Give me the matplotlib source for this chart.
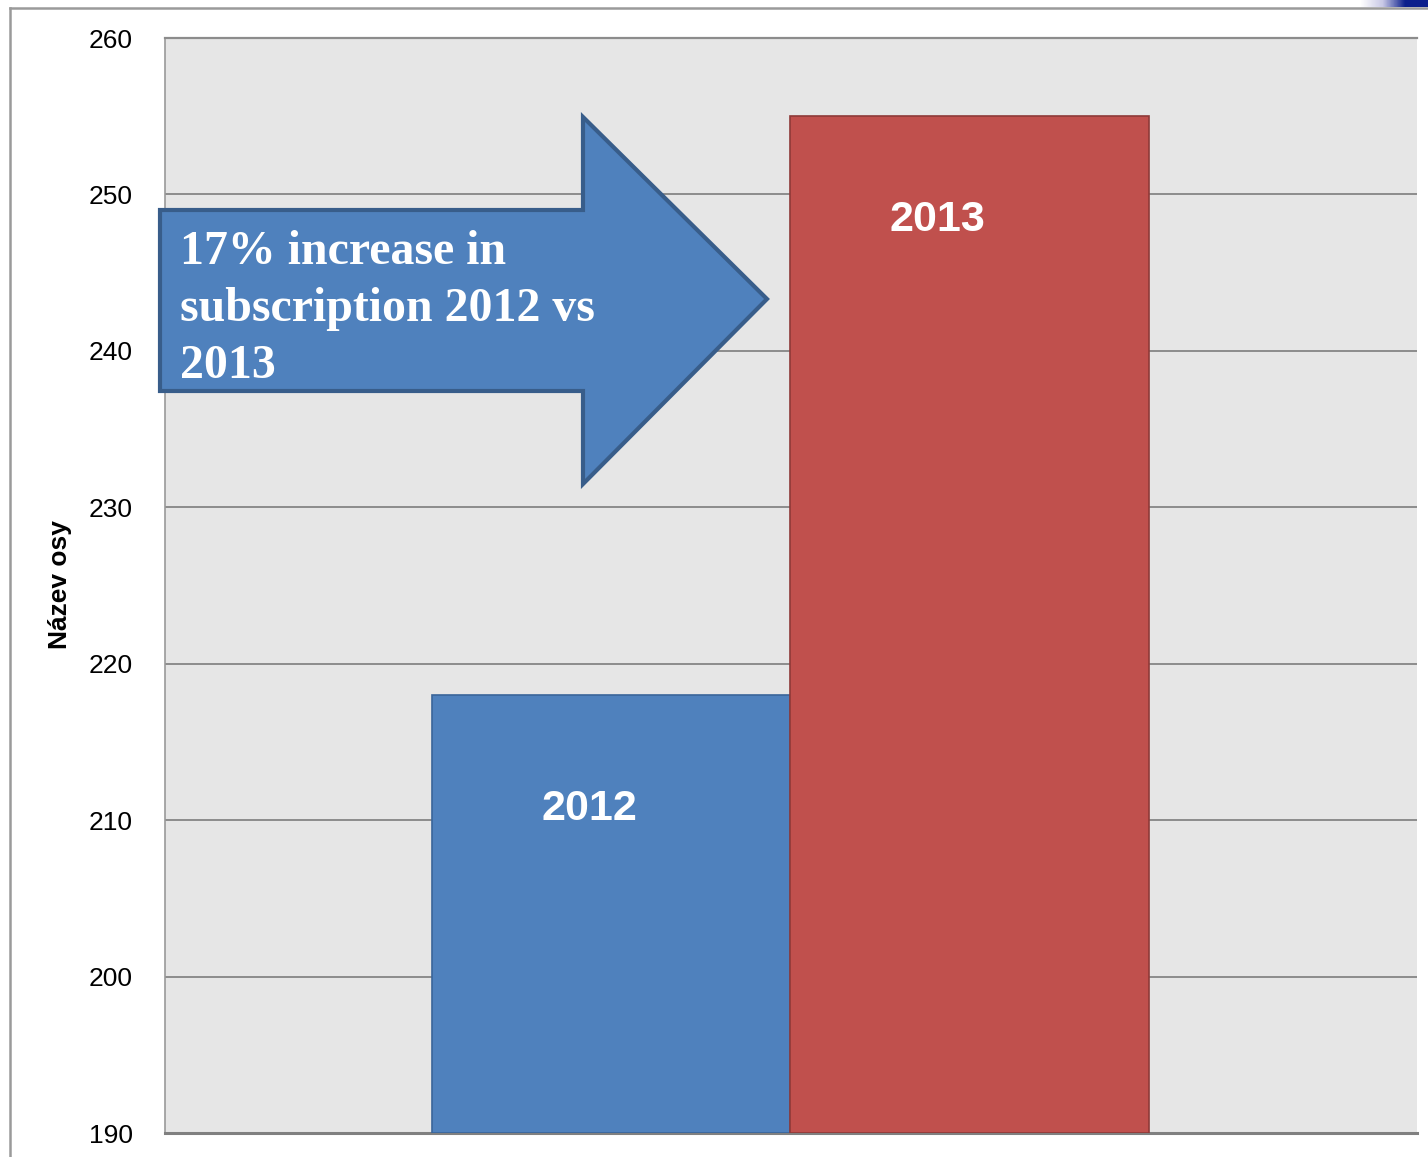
import matplotlib
matplotlib.use("Agg")
import matplotlib.pyplot as plt
from matplotlib.patches import Polygon
from matplotlib.colors import LinearSegmentedColormap
import numpy as np

years = ["2012", "2013"]
values = [218, 255]
colors = ["#4F81BD", "#C0504D"]
edges = ["#3A659A", "#8E3A38"]
yticks = [190, 200, 210, 220, 230, 240, 250, 260]
axis_title = "Název osy"
arrow_text = "17% increase in\nsubscription 2012 vs\n2013"

W, H = 1428, 1157
fig = plt.figure(figsize=(W / 100, H / 100), dpi=100)

def fx(px):
    return px / W

def fy(py):
    return 1 - py / H

# outer frame
fig.add_artist(plt.Line2D([fx(10), fx(10)], [fy(8), 0], color="#9a9a9a", lw=1.8, transform=fig.transFigure))
fig.add_artist(plt.Line2D([fx(10), 1], [fy(8), fy(8)], color="#9a9a9a", lw=1.8, transform=fig.transFigure))
# top-right decoration
grad = np.linspace(0, 1, 50).reshape(1, -1)
cm = LinearSegmentedColormap.from_list("d", ["#ffffff", "#c8c8e6", "#0c1f8c", "#0c1f8c"])
dec = fig.add_axes([fx(1360), fy(7), fx(1428) - fx(1360), fy(0) - fy(7)])
dec.imshow(grad, aspect="auto", cmap=cm)
dec.axis("off")

ax = fig.add_axes([fx(165), fy(1133), fx(1417) - fx(165), fy(38) - fy(1133)])
ax.set_facecolor("#E6E6E6")
x = np.arange(len(years))
ax.bar(x, [v - 190 for v in values], bottom=190, width=1.0, color=colors,
       edgecolor=edges, linewidth=1.2, zorder=3)
ax.set_xlim(-1.245, 2.248)
ax.set_ylim(190, 260)
ax.set_yticks(yticks)
ax.set_yticklabels([str(t) for t in yticks], fontsize=19, family="Liberation Sans")
ax.tick_params(axis="y", length=0, pad=23)
ax.set_xticks([])
ax.grid(axis="y", color="#8c8c8c", lw=1.4, zorder=1)
ax.spines["right"].set_visible(False)
ax.spines["top"].set_color("#8c8c8c")
ax.spines["top"].set_linewidth(1.6)
ax.spines["left"].set_color("#9a9a9a")
ax.spines["left"].set_linewidth(1.2)
ax.spines["bottom"].set_color("#808080")
ax.spines["bottom"].set_linewidth(2.2)

fig.text(fx(60), fy(585), axis_title, rotation=90, fontsize=19, fontweight="bold",
         family="Liberation Sans", ha="center", va="center")

# labels in bars
label_pos = [(-0.06, 210.7), (0.91, 248.35)]
for yr, (lx, ly) in zip(years, label_pos):
    ax.text(lx, ly, yr, color="white", fontsize=31, fontweight="bold",
            family="Liberation Sans", ha="center", va="center", zorder=5)

# arrow annotation
pts = [(160, 210), (583, 210), (583, 117), (767, 299), (583, 484), (583, 391), (160, 391)]
poly = Polygon([(fx(a), fy(b)) for a, b in pts], closed=True, transform=fig.transFigure,
               facecolor="#4F81BD", edgecolor="#385D8A", linewidth=3, zorder=10)
fig.add_artist(poly)
fig.text(fx(180), fy(230), arrow_text, color="white", fontsize=34.5, fontweight="bold",
         family="Liberation Serif", ha="left", va="top", linespacing=1.385, zorder=11)

fig.savefig("out.png", dpi=100)
